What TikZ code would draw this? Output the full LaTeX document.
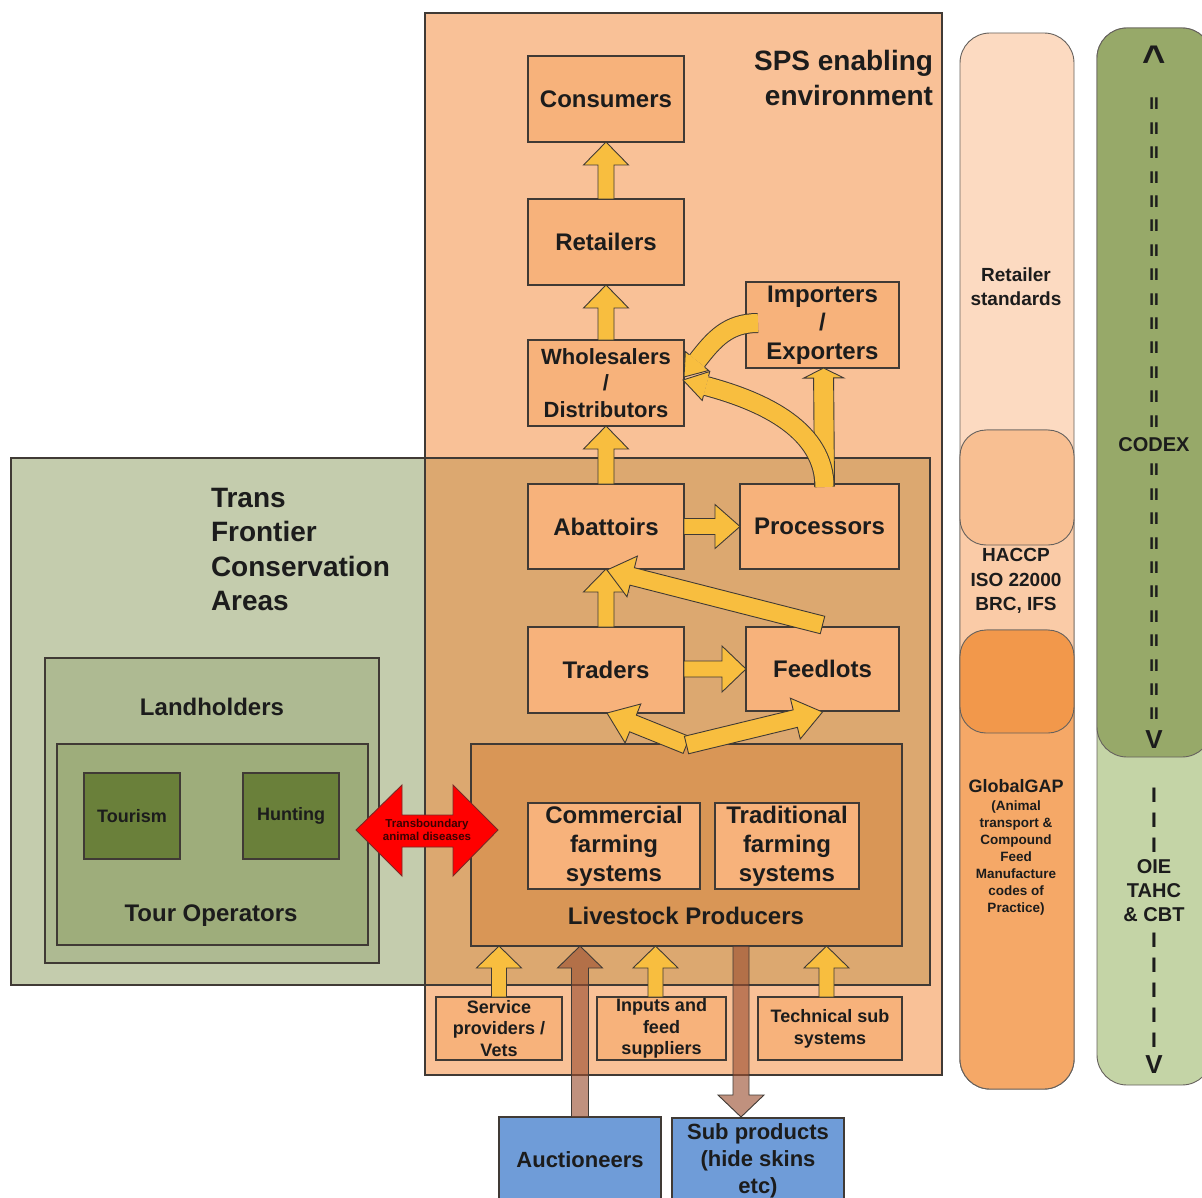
\documentclass[tikz,border=0pt]{standalone}
\usepackage{fontspec}
\setmainfont{Liberation Sans}
\usetikzlibrary{calc}
\definecolor{spsc}{HTML}{F9C197}
\definecolor{boxc}{HTML}{F7B27B}
\definecolor{tanc}{HTML}{DCA870}
\definecolor{tfcac}{HTML}{C4CCAD}
\definecolor{lndc}{HTML}{AEBA92}
\definecolor{tourc}{HTML}{9EAD7B}
\definecolor{tsmc}{HTML}{6A803A}
\definecolor{lspc}{HTML}{D99656}
\definecolor{aucc}{HTML}{6F9CD8}
\definecolor{arry}{HTML}{F8BE3F}
\definecolor{arrb}{HTML}{9A4E30}
\definecolor{stA}{HTML}{FCDAC1}
\definecolor{stB}{HTML}{FACBA7}
\definecolor{stC}{HTML}{F8BF92}
\definecolor{stD}{HTML}{F5A867}
\definecolor{stE}{HTML}{F2984B}
\definecolor{cdA}{HTML}{C4D4A6}
\definecolor{cdB}{HTML}{97A969}
\definecolor{outl}{HTML}{403A35}
\definecolor{txt}{HTML}{1C1C1C}
% block arrow: style, from, to, shaft half width, head half width, head length
\newcommand\blk[6][]{%
  \coordinate (bkA) at (#2); \coordinate (bkB) at (#3);
  \coordinate (bkH) at ($(bkB)!#6!(bkA)$);
  \path[#1] ($(bkA)!#4!90:(bkB)$) -- ($(bkH)!#4!-90:(bkA)$) -- ($(bkH)!#5!-90:(bkA)$) -- (bkB)
    -- ($(bkH)!#5!90:(bkA)$) -- ($(bkH)!#4!90:(bkA)$) -- ($(bkA)!#4!-90:(bkB)$) -- cycle;}
% arrow head only: style, base, tip, shaft half width, head half width
\newcommand\hd[5][]{%
  \coordinate (hA) at (#2); \coordinate (hB) at (#3);
  \fill[#1,draw=none] ($(hA)!#4!90:(hB)$) -- ($(hA)!#5!90:(hB)$) -- (hB) -- ($(hA)!#5!-90:(hB)$) -- ($(hA)!#4!-90:(hB)$) -- cycle;
  \draw[#1,fill=none] ($(hA)!#4!90:(hB)$) -- ($(hA)!#5!90:(hB)$) -- (hB) -- ($(hA)!#5!-90:(hB)$) -- ($(hA)!#4!-90:(hB)$);}
\tikzset{
  bx/.style={draw=outl, line width=1.1pt, fill=boxc, align=center, text=txt,
    font=\bfseries\fontsize{24}{28.5}\selectfont},
  regn/.style={draw=outl, line width=1.1pt},
  lbl/.style={text=txt, align=center},
  yarr/.style={fill=arry, draw=outl, line width=0.9pt, line join=miter},
  barr/.style={fill=arrb, fill opacity=0.62, draw=outl, line width=0.9pt, line join=miter},
  curv/.style={draw=outl, line width=1pt, double=arry, double distance=18pt},
  colm/.style={draw=outl!80, line width=0.9pt, rounded corners=30pt},
  cdx/.style={text=txt, align=center, font=\bfseries\fontsize{17}{17}\selectfont},
}
\begin{document}
\begin{tikzpicture}[x=1pt,y=-1pt, every node/.style={inner sep=0pt, outer sep=0pt}]
\clip (0,0) rectangle (1202,1198);
\fill[white] (0,0) rectangle (1202,1198);
% regions
\node[regn, fill=spsc, minimum width=517, minimum height=1062] (sps) at (683.5,544) {};
\node[regn, fill=tanc, minimum width=505, minimum height=527] (tan) at (677.5,721.5) {};
\node[regn, fill=tfcac, minimum width=414, minimum height=527] (tfca) at (218,721.5) {};
\node[regn, fill=lndc, minimum width=334, minimum height=305] (lnd) at (212,810.5) {};
\node[regn, fill=tourc, minimum width=311, minimum height=201] (tour) at (212.5,844.5) {};
\node[regn, fill=tsmc, minimum width=96, minimum height=86, text=txt, font=\bfseries\fontsize{18}{21}\selectfont] (tsm) at (132,816) {Tourism};
\node[regn, fill=tsmc, minimum width=96, minimum height=86, text=txt, font=\bfseries\fontsize{18}{21}\selectfont] (hnt) at (291,816) {Hunting};
\node[lbl, font=\bfseries\fontsize{24}{28}\selectfont] (lndt) at (212,707) {Landholders};
\node[lbl, font=\bfseries\fontsize{24}{28}\selectfont] (tourt) at (211,916) {Tour Operators};
\node[lbl, align=left, anchor=west, font=\bfseries\fontsize{28}{34.3}\selectfont] (tfcat) at (211,549.5) {Trans\\Frontier\\Conservation\\Areas};
\node[lbl, align=right, anchor=east, font=\bfseries\fontsize{28}{35}\selectfont] (spst) at (933,78) {SPS enabling\\environment};
% chain boxes
\node[bx, minimum width=156, minimum height=86] (con) at (606,99) {Consumers};
\node[bx, minimum width=156, minimum height=86] (ret) at (606,242) {Retailers};
\node[bx, minimum width=156, minimum height=86, font=\bfseries\fontsize{22}{26.5}\selectfont] (whl) at (606,383) {Wholesalers\\/\\Distributors};
\node[bx, minimum width=153, minimum height=86] (imp) at (822.5,325) {Importers\\/\\Exporters};
\node[bx, minimum width=156, minimum height=85] (aba) at (606,526.5) {Abattoirs};
\node[bx, minimum width=159, minimum height=85] (pro) at (819.5,526.5) {Processors};
\node[bx, minimum width=156, minimum height=86] (tra) at (606,670) {Traders};
\node[bx, minimum width=153, minimum height=84] (fed) at (822.5,669) {Feedlots};
\node[bx, fill=lspc, minimum width=431, minimum height=202] (lsp) at (686.5,845) {};
\node[bx, minimum width=172, minimum height=86, font=\bfseries\fontsize{24}{29}\selectfont] (com) at (614,846) {Commercial\\farming\\systems};
\node[bx, minimum width=144, minimum height=86, font=\bfseries\fontsize{24}{29}\selectfont] (trd) at (787,846) {Traditional\\farming\\systems};
\node[lbl, font=\bfseries\fontsize{24}{28}\selectfont] (lspt) at (686,916) {Livestock Producers};
\node[bx, minimum width=126, minimum height=63, font=\bfseries\fontsize{18}{21.5}\selectfont] (svc) at (499,1028.5) {Service\\providers /\\Vets};
\node[bx, minimum width=129, minimum height=63, font=\bfseries\fontsize{18}{21.5}\selectfont] (inp) at (661.5,1028.5) {Inputs and\\feed\\suppliers};
\node[bx, minimum width=144, minimum height=63, font=\bfseries\fontsize{18}{22}\selectfont] (tec) at (830,1028.5) {Technical sub\\systems};
\node[bx, fill=aucc, minimum width=162, minimum height=86, font=\bfseries\fontsize{22}{27}\selectfont] (auc) at (580,1160) {Auctioneers};
\node[bx, fill=aucc, minimum width=172, minimum height=86, font=\bfseries\fontsize{22}{27}\selectfont] (sub) at (758,1161) {Sub products\\(hide skins\\etc)};
% yellow arrows
\blk[yarr]{ret.north}{con.south}{8pt}{22.5pt}{23pt}
\blk[yarr]{whl.north}{ret.south}{8pt}{22.5pt}{23pt}
\blk[yarr]{aba.north}{whl.south}{8pt}{22.5pt}{23pt}
\blk[yarr]{tra.north}{aba.south}{8pt}{22.5pt}{23pt}
\blk[yarr]{aba.east}{pro.west}{8pt}{22pt}{25pt}
\blk[yarr]{$(tra.east)+(0,-1)$}{fed.west}{8pt}{23pt}{24pt}
\blk[yarr]{$(fed.north)+(0,-2)$}{$(aba.south)+(1,1)$}{9pt}{21pt}{26pt}
\blk[yarr]{$(lsp.north)+(0,1)$}{$(tra.south)+(1,0)$}{9pt}{21pt}{28pt}
\blk[yarr]{$(lsp.north)+(0,1)$}{$(fed.south)+(0,1)$}{9pt}{21pt}{28pt}
\blk[yarr]{$(pro.north)+(5,2)$}{$(imp.south)+(1,0)$}{10pt}{20pt}{10pt}
% curved arrows
\coordinate (c1s) at ($(pro.north)+(5,3)$);
\coordinate (c1e) at ($(whl.east)+(22,3)$);
\coordinate (c1t) at ($(whl.east)+(-1,-3)$);
\draw[curv] (c1s) .. controls ($(c1s)+(0,-56)$) and ($(c1e)+(60,16)$) .. (c1e);
\hd[yarr]{c1e}{c1t}{10pt}{15pt}
\coordinate (c2s) at ($(imp.west)+(12,-2)$);
\coordinate (c2e) at ($(whl.east)+(13,-22)$);
\coordinate (c2t) at ($(whl.east)+(0,-6)$);
\draw[curv] (c2s) .. controls ($(c2s)+(-30,0)$) and ($(c2e)+(17,-22)$) .. (c2e);
\hd[yarr]{c2e}{c2t}{10pt}{15pt}
% support arrows
\blk[yarr]{svc.north}{svc.north |- lsp.south}{7.5pt}{22.5pt}{22pt}
\blk[yarr]{$(inp.north)+(-6,0)$}{$(inp.north |- lsp.south)+(-6,0)$}{7.5pt}{22.5pt}{22pt}
\blk[yarr]{$(tec.north)+(-3.5,0)$}{$(tec.north |- lsp.south)+(-3.5,0)$}{7.5pt}{22.5pt}{22pt}
\blk[barr]{auc.north}{auc.north |- lsp.south}{8.5pt}{22.5pt}{22pt}
\blk[barr]{$(lsp.south)+(54.5,0)$}{$(lsp.south)+(54.5,171)$}{8pt}{23pt}{22pt}
% transboundary double arrow
\coordinate (tadc) at (427,830);
\path[fill=red, draw=outl!70!red, line width=0.9pt, line join=miter]
  ($(tadc)+(-71,0)$) -- ($(tadc)+(-25,-45)$) -- ($(tadc)+(-25,-15)$) -- ($(tadc)+(26,-15)$)
  -- ($(tadc)+(26,-45)$) -- ($(tadc)+(71,0)$) -- ($(tadc)+(26,46)$) -- ($(tadc)+(26,17)$)
  -- ($(tadc)+(-25,17)$) -- ($(tadc)+(-25,46)$) -- cycle;
\node[lbl, text={rgb,255:red,60;green,0;blue,0}, font=\bfseries\fontsize{11.5}{13.5}\selectfont] (tad) at (tadc) {Transboundary\\animal diseases};
% standards column
\draw[colm, fill=stA] (960,33) rectangle (1074,1089);
\draw[colm, fill=stB] (960,430) rectangle (1074,1089);
\draw[colm, fill=stC, rounded corners=26pt] (960,430) rectangle (1074,545);
\draw[colm, fill=stD] (960,630) rectangle (1074,1089);
\draw[colm, fill=stE, rounded corners=26pt] (960,630) rectangle (1074,733);
\node[lbl, font=\bfseries\fontsize{19}{24}\selectfont] (rst) at (1016,287) {Retailer\\standards};
\node[lbl, font=\bfseries\fontsize{19}{24.5}\selectfont] (hac) at (1016,581) {HACCP\\ISO 22000\\BRC, IFS};
\node[lbl, font=\bfseries\fontsize{18}{22}\selectfont] (ggp) at (1016,786) {GlobalGAP};
\node[lbl, font=\bfseries\fontsize{13.5}{17}\selectfont] (ggs) at (1016,858.5) {(Animal\\transport \&\\Compound\\Feed\\Manufacture\\codes of\\Practice)};
% codex column
\draw[colm, fill=cdA] (1097,28) rectangle (1212,1085);
\draw[colm, fill=cdB] (1097,28) rectangle (1212,757);
\node[cdx, anchor=base, font=\bfseries\fontsize{40}{40}\selectfont] (cup) at (1154,74) {\textasciicircum};
\foreach \k in {0,...,13} \node[cdx] (cxa\k) at (1154,{104+\k*24.4}) {II};
\node[cdx, font=\bfseries\fontsize{20}{24}\selectfont] (cdxt) at (1154,445) {CODEX};
\foreach \k in {0,...,10} \node[cdx] (cxb\k) at (1154,{470+\k*24.4}) {II};
\node[cdx, font=\bfseries\fontsize{26}{26}\selectfont] (cdv) at (1154,740) {V};
\foreach \k in {0,1,2} \node[cdx, font=\bfseries\fontsize{21}{21}\selectfont] (oia\k) at (1154,{795+\k*25}) {I};
\node[cdx, font=\bfseries\fontsize{20}{24}\selectfont] (oie) at (1154,891) {OIE\\TAHC\\\& CBT};
\foreach \k in {0,...,4} \node[cdx, font=\bfseries\fontsize{21}{21}\selectfont] (oib\k) at (1154,{940+\k*25}) {I};
\node[cdx, font=\bfseries\fontsize{26}{26}\selectfont] (oiv) at (1154,1065) {V};
\end{tikzpicture}
\end{document}
